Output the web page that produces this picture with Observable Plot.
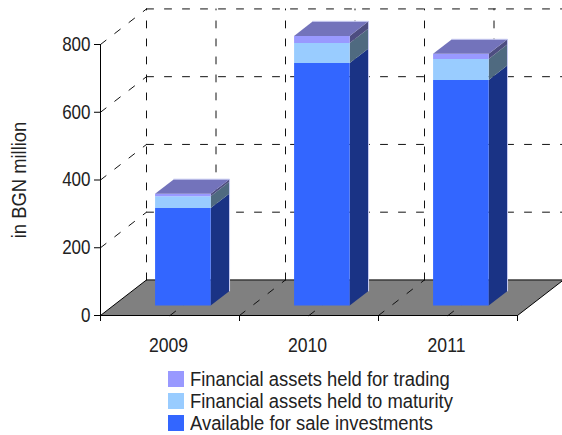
<!DOCTYPE html>
<html>
<head>
<meta charset="utf-8">
<script src="https://cdn.jsdelivr.net/npm/d3@7"></script>
<script src="https://cdn.jsdelivr.net/npm/@observablehq/plot@0.6"></script>
<style>
  html, body { margin: 0; background: #fff; }
  body { width: 562px; height: 435px; overflow: hidden; font-family: "Liberation Sans", Arial, sans-serif; color: #222; }
  svg { display: block; }
  #legend { position: relative; height: 75px; }
  .row { position: absolute; left: 168px; height: 16px; display: flex; align-items: center; white-space: nowrap; font-size: 20px; line-height: 16px; }
  .swatch { width: 16px; height: 16px; margin-right: 6px; flex: none; }
  .row .name { display: inline-block; transform: scaleX(0.92); transform-origin: left center; }
</style>
</head>
<body>
<div id="chart"></div>
<div id="legend"></div>
<script>
// Year-end balances, BGN million
const years = ["2009", "2010", "2011"];
const availableForSale = [288, 716, 666];
const heldToMaturity = [35, 59, 62];
const heldForTrading = [7, 21, 15];
const valueTicks = [0, 200, 400, 600, 800];

const seriesNames = ["Financial assets held for trading", "Financial assets held to maturity", "Available for sale investments"];
const frontColors = ["#9999ff", "#99ccff", "#3366ff"];
const axisTitle = "in BGN million";

// Oblique projection: depth 0 is the front of the floor, depth 1 its back edge
const depthX = 0.331;
const depthY = 105;
const project = (x, value, depth) => ({x: x + depth * depthX, y: value + depth * depthY});

const barFront = 0.28;
const barBack = 0.69;
const barHalf = 0.2;

const faces = [];
const addFace = (id, fill, corners) => corners.forEach((c) => faces.push({id, fill, ...c}));
const rims = [];

const stacks = [
  {values: availableForSale, front: "#3366ff", side: "#1a3385"},
  {values: heldToMaturity, front: "#99ccff", side: "#4f6a80"},
  {values: heldForTrading, front: "#9999ff", side: "#4d4d80"}
];

years.forEach((year, i) => {
  const c = i + 0.5, l = c - barHalf, r = c + barHalf;
  let base = 0;
  stacks.forEach((s, k) => {
    const top = base + s.values[i];
    addFace(`${year}-side-${k}`, s.side, [
      project(r, base, barFront), project(r, top, barFront),
      project(r, top, barBack), project(r, base, barBack)
    ]);
    addFace(`${year}-front-${k}`, s.front, [
      project(l, base, barFront), project(l, top, barFront),
      project(r, top, barFront), project(r, base, barFront)
    ]);
    base = top;
  });
  addFace(`${year}-top`, "#7373bb", [
    project(l, base, barFront), project(l, base, barBack),
    project(r, base, barBack), project(r, base, barFront)
  ]);
  // Pale rim along the far edges of each column
  rims.push(
    {id: year, ...project(l, base, barBack)},
    {id: year, ...project(r, base, barBack)},
    {id: year, ...project(r, 0, barBack)}
  );
});

const segment = (id, a, b) => [{id, ...a}, {id, ...b}];
const floor = [project(0, 0, 0), project(3, 0, 0), project(3, 0, 1), project(0, 0, 1)];
const halfSteps = [0, 0.5, 1, 1.5, 2, 2.5];

const wallRows = valueTicks.slice(1).flatMap((v) => segment(`row${v}`, project(0, v, 1), project(3, v, 1)));
const wallColumns = halfSteps.flatMap((x) => segment(`col${x}`, project(x, 0, 1), project(x, 800, 1)));
const sideWall = valueTicks.slice(1).flatMap((v) => segment(`side${v}`, project(0, v, 0), project(0, v, 1)));
const floorLines = halfSteps.slice(1).flatMap((x) => segment(`floor${x}`, project(x, 0, 0), project(x, 0, 1)));
const floorEdges = [
  ...segment("front", project(0, 0, 0), project(3, 0, 0)),
  ...segment("back", project(0, 0, 1), project(3, 0, 1)),
  ...segment("left", project(0, 0, 0), project(0, 0, 1)),
  ...segment("right", project(3, 0, 0), project(3, 0, 1))
];

const dashed = {x: "x", y: "y", z: "id", stroke: "#111", strokeWidth: 1, strokeDasharray: "7 11"};

const chart = Plot.plot({
  width: 562,
  height: 360,
  marginLeft: 100,
  marginRight: 45,
  marginTop: 44,
  marginBottom: 45,
  style: {fontFamily: "'Liberation Sans', Arial, sans-serif", fontSize: "20px", color: "#222", background: "#fff", overflow: "hidden"},
  x: {domain: [0, 3]},
  y: {domain: [0, 800]},
  marks: [
    Plot.line(floor, {x: "x", y: "y", fill: "#808080", stroke: "none"}),
    Plot.line(wallRows, dashed),
    Plot.line(wallColumns, dashed),
    Plot.line(sideWall, dashed),
    Plot.line(floorLines, dashed),
    Plot.line(floorEdges, {x: "x", y: "y", z: "id", stroke: "#000", strokeWidth: 1}),
    Plot.line(faces, {x: "x", y: "y", z: "id", fill: "fill", stroke: "none"}),
    Plot.line(rims, {x: "x", y: "y", z: "id", stroke: "#c9ccf2", strokeWidth: 1}),
    Plot.ruleX([0], {y1: 0, y2: 800, stroke: "#000"}),
    Plot.axisY({
      ticks: valueTicks, tickSize: 6, tickPadding: 4, fontSize: 20, stroke: "#000",
      label: axisTitle, labelAnchor: "center", labelArrow: "none", labelOffset: 89
    }),
    Plot.axisX({ticks: [0, 1, 2, 3], tickSize: 6, tickFormat: () => "", label: null, stroke: "#000"}),
    Plot.axisX({
      ticks: [0.5, 1.5, 2.5], tickSize: 0, tickPadding: 22, fontSize: 20, dx: -1.5, label: null,
      tickFormat: (d) => years[Math.floor(d)]
    })
  ]
});
document.getElementById("chart").append(chart);

// The chart's typeface is condensed, so axis text is narrowed once it can be measured
chart.querySelectorAll("text").forEach((t) => {
  const length = t.getComputedTextLength();
  if (!length) return;
  const factor = t.textContent === axisTitle ? 0.92 : years.includes(t.textContent) ? 0.88 : 0.85;
  t.setAttribute("textLength", length * factor);
  t.setAttribute("lengthAdjust", "spacingAndGlyphs");
});

// Legend, listed top to bottom in stacking order
const legend = document.getElementById("legend");
seriesNames.forEach((name, i) => {
  const row = document.createElement("div");
  row.className = "row";
  row.style.top = `${11 + i * 22}px`;
  const swatch = document.createElement("span");
  swatch.className = "swatch";
  swatch.style.background = frontColors[i];
  const label = document.createElement("span");
  label.className = "name";
  label.textContent = name;
  row.append(swatch, label);
  legend.append(row);
});
</script>
</body>
</html>
